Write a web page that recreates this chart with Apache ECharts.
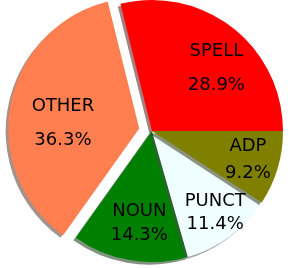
<!DOCTYPE html>
<html><head><meta charset="utf-8">
<script src="https://cdn.jsdelivr.net/npm/echarts@6/dist/echarts.min.js"></script>
<style>html,body{margin:0;padding:0;background:#fff}#c{width:290px;height:268px}</style>
</head><body><div id="c"></div>
<script>
// data (counter-clockwise from 3 o'clock)
var categories = ['SPELL', 'OTHER', 'NOUN', 'PUNCT', 'ADP'];
var shares = [28.9, 36.3, 14.3, 11.4, 9.2];
var exploded = ['OTHER'];

// style
var colors = ['#ff0000', '#ff7f50', '#008000', '#f0ffff', '#808000'];
var labelNudges = [[4, 15], [20, 13], [4, -4], [5, 3], [2, 1]];   // label fine placement (px)
var labelLineHeights = [34, 34, 24, 23, 27];
function shadowOf(hex) {
  var r = parseInt(hex.substr(1, 2), 16), g = parseInt(hex.substr(3, 2), 16), b = parseInt(hex.substr(5, 2), 16);
  return 'rgba(' + Math.round(r * 0.3) + ',' + Math.round(g * 0.3) + ',' + Math.round(b * 0.3) + ',0.5)';
}
var R = 131;
var labelR = 95;
var center = [152, 131];

var mainData = categories.map(function (c, i) {
  return {
    name: c, value: shares[i], selected: exploded.indexOf(c) >= 0,
    itemStyle: { color: colors[i], shadowColor: shadowOf(colors[i]), shadowBlur: 0, shadowOffsetX: -2.6, shadowOffsetY: 2.6 }
  };
});
var labelData = categories.map(function (c, i) {
  var lab = { offset: labelNudges[i], lineHeight: labelLineHeights[i] };
  return {
    name: c, value: shares[i], selected: exploded.indexOf(c) >= 0,
    label: lab, select: { label: lab }
  };
});

var chart = echarts.init(document.getElementById('c'), null, { renderer: 'canvas' });
chart.setOption({
  animation: false,
  series: [{
    type: 'pie', center: center, radius: [0, R], startAngle: 0, clockwise: false,
    selectedMode: 'multiple', selectedOffset: 13, silent: true,
    label: { show: false }, labelLine: { show: false },
    emphasis: { disabled: true }, select: { itemStyle: {} },
    data: mainData
  }, {
    type: 'pie', center: center, radius: [0, labelR * 2], startAngle: 0, clockwise: false,
    selectedMode: 'multiple', selectedOffset: 13, silent: true,
    itemStyle: { color: 'rgba(0,0,0,0)' },
    emphasis: { disabled: true },
    labelLine: { show: false },
    label: {
      show: true, position: 'inside', color: '#000',
      fontFamily: 'DejaVu Sans', fontSize: 18, lineHeight: 28,
      formatter: function (p) { return p.name + '\n' + p.value.toFixed(1) + '%'; }
    },
    data: labelData
  }]
});
</script></body></html>
